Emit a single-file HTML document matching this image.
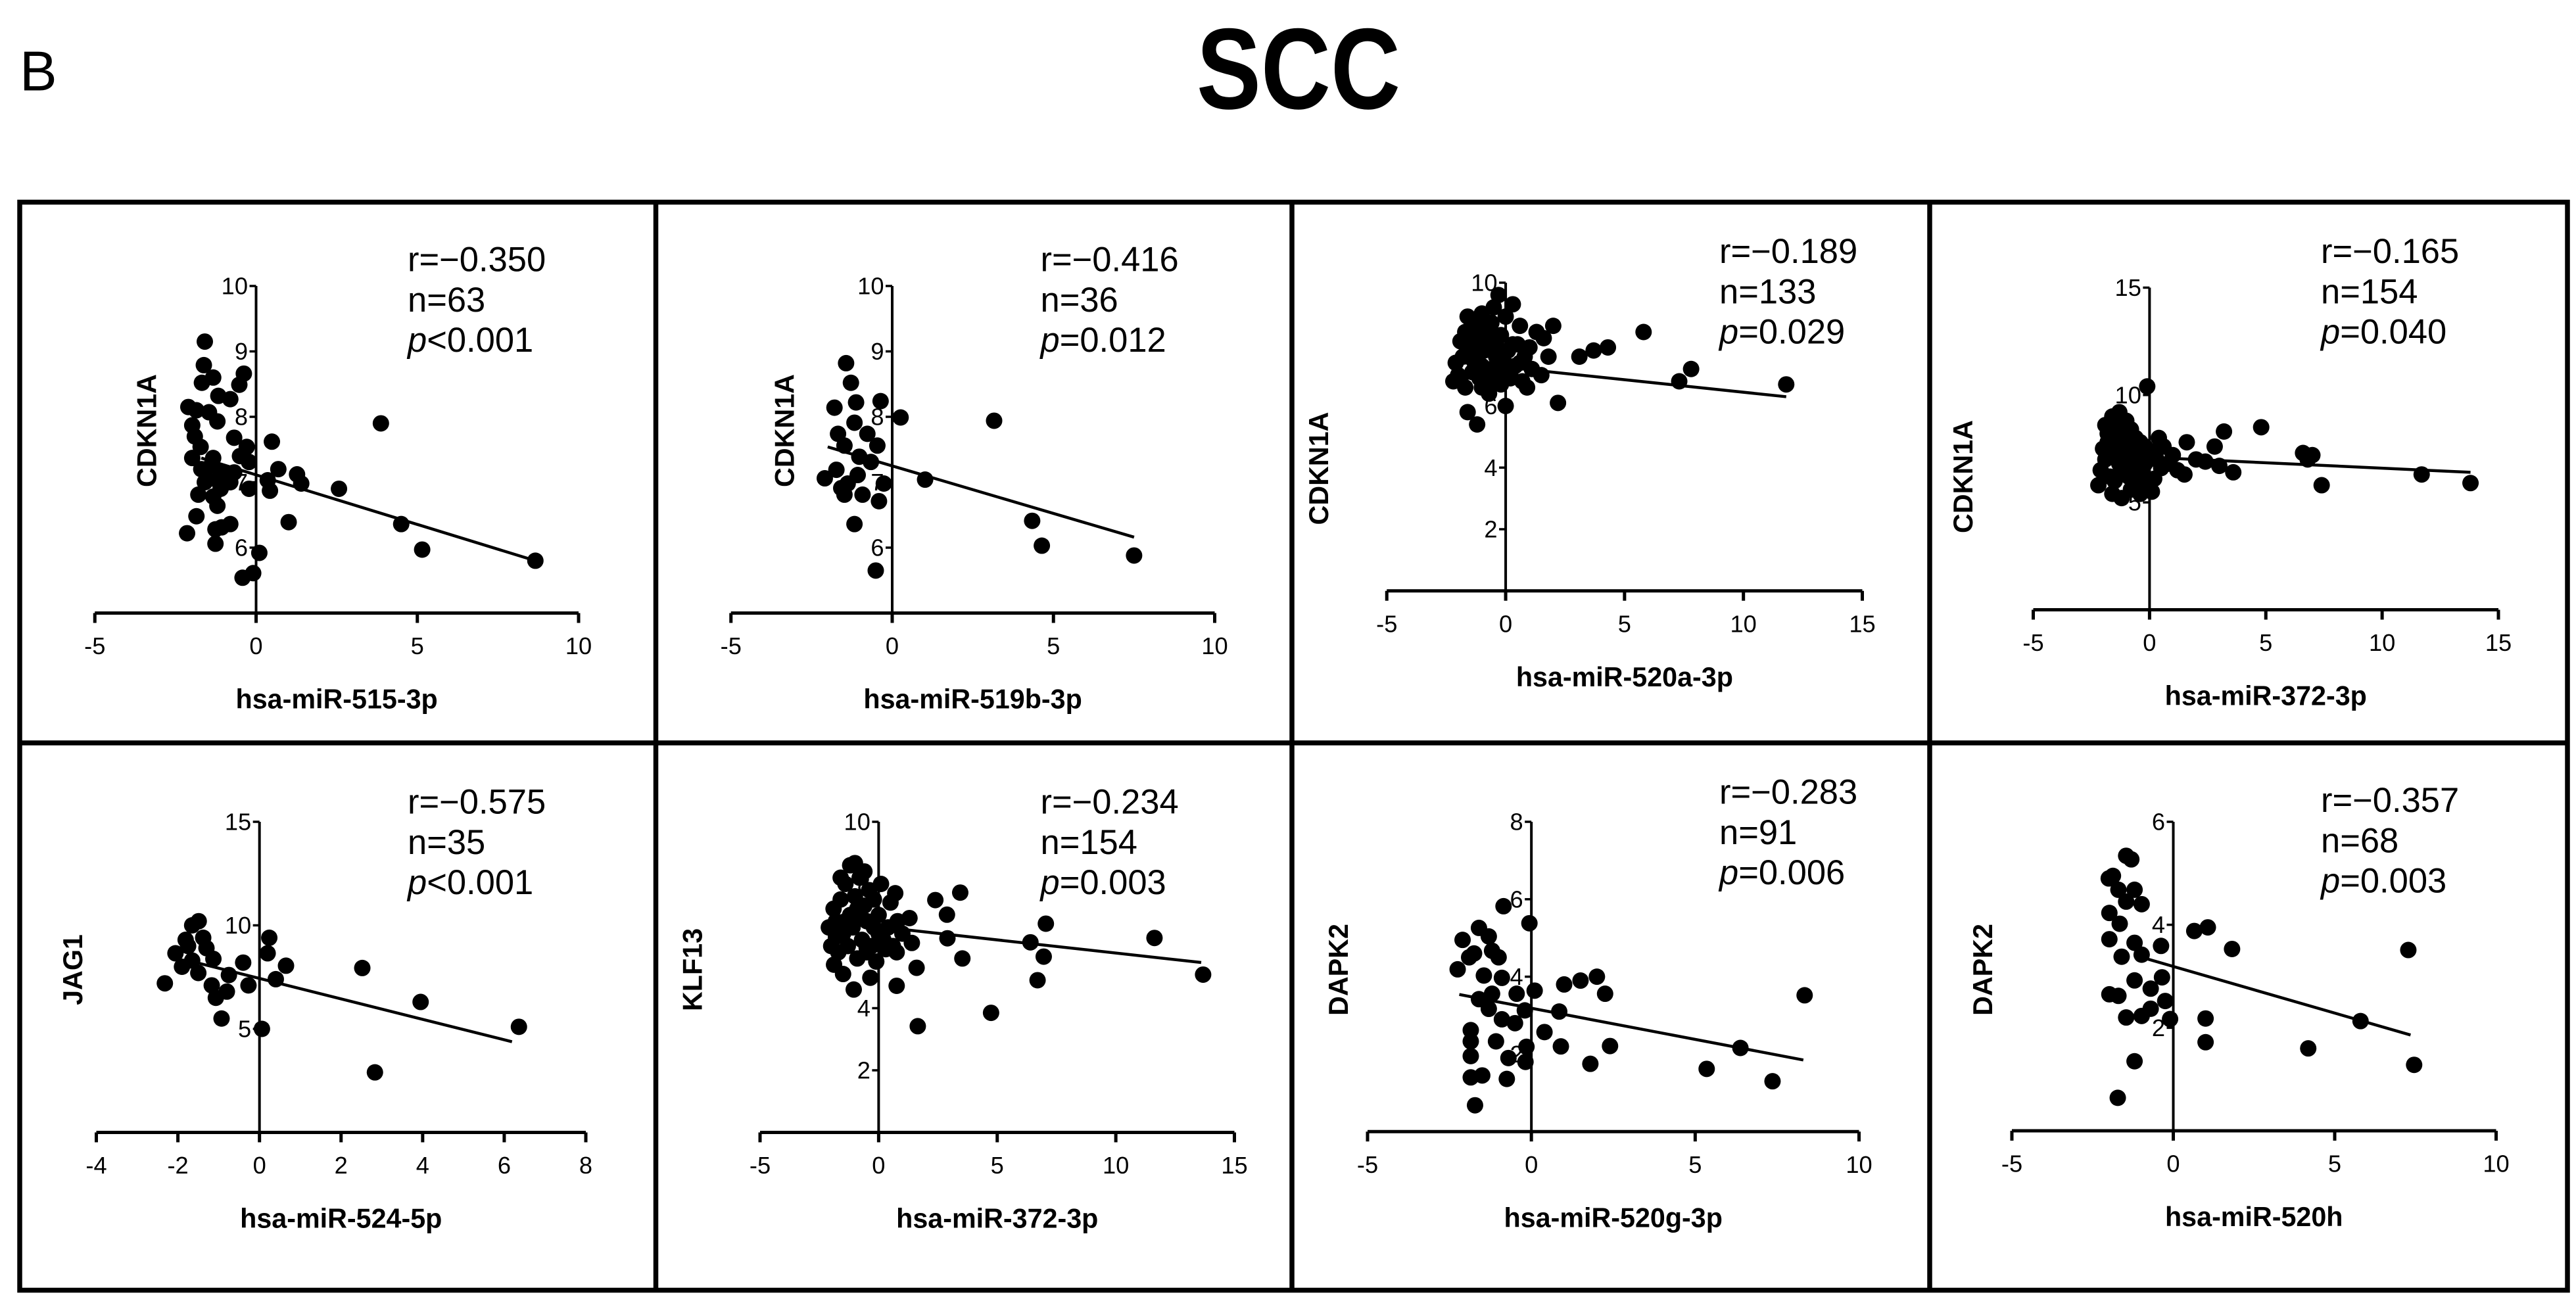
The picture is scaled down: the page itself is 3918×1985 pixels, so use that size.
<!DOCTYPE html>
<html><head><meta charset="utf-8">
<style>
html,body{margin:0;padding:0;background:#fff;}
svg{display:block;}
text{font-family:"Liberation Sans",Arial,sans-serif;fill:#000;}
.tick{font-family:"Liberation Sans Narrow","Liberation Sans",sans-serif;font-size:14.5px;}
.axl{font-weight:bold;font-size:16.5px;}
.st{font-size:21px;}
</style></head>
<body>
<svg id="fig" width="3918" height="1985" viewBox="0 0 1567.2 794" xmlns="http://www.w3.org/2000/svg">
<rect x="0" y="0" width="1567.2" height="794" fill="#fff"/>
<text x="12" y="55" font-size="34">B</text>
<text x="728" y="66" font-size="70" font-weight="bold" textLength="124" lengthAdjust="spacingAndGlyphs">SCC</text>
<g stroke="#000" stroke-width="3" fill="none">
<rect x="12" y="123" width="1550" height="662"/>
<line x1="399" y1="123" x2="399" y2="785"/>
<line x1="786" y1="123" x2="786" y2="785"/>
<line x1="1174" y1="123" x2="1174" y2="785"/>
<line x1="12" y1="452" x2="1562" y2="452"/>
</g>
<g id="plots"></g>
</svg>
<script>
// ---- data ----
const p1x=[-1.59,-1.62,-1.33,-1.68,-0.38,-0.52,-1.17,-0.8,-2.1,-1.85,-1.46,-1.2,3.87,-1.98,-1.9,-0.68,0.49,-0.29,-1.72,-1.98,-1.33,-0.22,0.69,-1.59,-1.07,-0.68,1.27,-1.2,-1.59,-0.8,0.36,1.4,2.57,-0.22,0.43,-1.79,-1.33,-1.2,-1.85,1.01,4.5,-0.8,-1.07,-1.26,-2.14,-1.26,5.15,0.1,-0.09,-0.42,8.66,-1.4,-1.0,-0.5,-1.7,-1.1];
const p1y=[9.15,8.79,8.6,8.52,8.66,8.49,8.32,8.27,8.15,8.1,8.07,7.93,7.9,7.87,7.7,7.68,7.62,7.54,7.54,7.37,7.37,7.31,7.2,7.17,7.15,7.15,7.12,7.03,7.0,7.0,7.03,6.98,6.9,6.9,6.87,6.81,6.78,6.64,6.48,6.39,6.36,6.36,6.31,6.28,6.22,6.06,5.97,5.92,5.61,5.54,5.8,7.25,7.05,7.4,7.2,6.9];
const p2x=[-1.43,-1.28,-1.12,-1.79,-0.36,-1.17,0.26,3.16,-1.68,-0.77,-1.48,-1.02,-0.46,-1.73,-1.07,-2.09,-1.38,1.02,-0.26,-0.92,-0.41,-1.48,-1.17,4.34,4.64,7.5,-0.51,-1.58,-0.66];
const p2y=[8.82,8.52,8.22,8.14,8.24,7.91,7.99,7.94,7.74,7.74,7.56,7.39,7.56,7.19,7.11,7.06,6.98,7.04,6.98,6.81,6.71,6.81,6.36,6.41,6.03,5.88,5.65,6.91,7.31];
const p3x=[-2.0,-1.8,-1.5,-1.2,-1.0,-0.8,-0.5,-0.3,0.0,0.3,0.5,0.8,1.0,1.3,1.6,2.0,-2.2,-1.9,-1.6,-1.3,-1.1,-0.9,-0.6,-0.4,-0.1,0.2,0.4,0.7,1.1,1.5,-2.1,-1.7,-1.4,-1.0,-0.7,-0.2,0.1,0.6,0.9,1.8,-1.5,-1.1,-0.6,-0.2,0.3,-1.2,-0.8,-0.3,-1.9,0.0,-1.4,-0.9,-0.4,0.2,-1.7,-1.0,-0.5,0.6,5.8,4.3,3.7,3.1,7.3,7.8,11.8,2.2,-1.6,-1.2,0.0];
const p3y=[7.0,7.6,8.3,8.8,9.0,8.4,9.2,9.6,8.9,9.3,8.0,7.6,7.9,8.4,8.2,8.6,6.8,8.1,8.9,7.4,6.9,7.8,7.2,8.0,7.5,6.9,7.3,6.8,7.2,7.0,7.4,6.6,7.1,6.6,6.4,6.7,7.8,8.6,6.6,7.6,7.8,8.2,8.7,8.3,8.0,7.5,7.0,7.1,6.9,7.3,8.6,8.0,7.6,7.1,8.4,7.3,6.8,7.4,8.4,7.9,7.8,7.6,6.8,7.2,6.7,6.1,5.8,5.4,6.0];
const p4x=[-2.0,-1.8,-1.6,-1.4,-1.2,-1.0,-0.8,-0.6,-0.4,-0.2,0.0,0.3,0.5,-2.1,-1.9,-1.7,-1.5,-1.3,-1.1,-0.9,-0.7,-0.5,-0.3,-0.1,0.2,0.6,1.0,-2.2,-1.6,-1.2,-0.8,-0.4,0.1,-1.8,-1.4,-1.0,-0.6,-0.2,0.4,-1.9,-1.3,-0.7,-1.5,-0.9,0.8,-0.1,4.8,3.2,2.8,1.6,6.6,7.0,6.8,7.4,11.7,13.8,3.6,1.5,2.4,3.0,1.2,2.0];
const p4y=[7.5,8.2,9.0,8.6,8.0,7.6,8.4,7.2,7.8,6.8,7.4,7.0,6.6,6.5,7.0,6.2,7.3,6.8,6.4,7.0,6.0,6.6,6.2,5.8,6.1,7.6,7.2,5.8,5.4,5.2,5.6,5.4,5.5,7.8,7.6,8.8,8.0,7.6,8.0,8.6,9.2,7.4,6.0,6.2,6.8,10.4,8.5,8.3,7.6,7.8,7.3,7.2,7.0,5.8,6.3,5.9,6.4,6.3,6.9,6.7,6.5,7.0];
const p5x=[-1.49,-1.65,0.24,-1.38,-1.81,-2.06,0.2,-1.13,-1.65,-0.4,-1.9,0.65,2.52,-1.5,-0.75,-2.32,-1.17,-0.27,0.4,-0.8,-1.07,3.95,-0.93,0.06,6.36,2.83,-1.3,-1.75];
const p5y=[10.2,10.0,9.4,9.4,9.3,8.65,8.65,8.38,8.3,8.2,8.0,8.05,7.94,7.7,7.6,7.2,7.1,7.1,7.4,6.8,6.5,6.3,5.5,5.0,5.1,2.9,8.9,9.0];
const p6x=[-2.0,-1.8,-1.6,-1.4,-1.2,-1.0,-0.8,-0.6,-0.4,-0.2,0.0,0.2,0.5,0.8,1.0,-1.9,-1.7,-1.5,-1.3,-1.1,-0.9,-0.7,-0.5,-0.3,-0.1,0.3,0.6,-1.6,-1.2,-0.9,-0.6,-0.2,0.1,0.4,-1.4,-1.0,-0.5,-1.8,-2.1,0.0,1.3,0.7,3.44,2.39,2.88,7.05,11.63,13.68,6.4,6.96,6.7,4.74,1.65,3.53,2.9,1.4,1.6,0.76,0.76,-0.35,-1.05,-1.5,-1.88,-1.0];
const p6y=[6.0,6.8,7.5,8.0,7.0,7.6,8.2,7.3,7.8,6.6,7.0,6.2,7.4,6.8,6.4,7.2,5.8,6.4,6.0,6.6,5.6,6.2,5.8,6.0,5.5,5.9,6.0,8.2,8.6,7.2,8.4,7.5,8.0,6.6,6.8,7.0,6.8,6.3,6.6,6.4,6.9,7.7,7.72,7.48,7.01,6.72,6.26,5.08,6.12,5.66,4.9,3.85,3.42,5.6,6.25,6.1,5.3,4.72,5.8,4.98,4.6,5.1,5.4,8.67];
const p7x=[8.34,6.38,5.35,7.36,-0.06,-0.85,-1.6,-1.3,-2.1,-1.2,-1.9,-2.25,2.0,1.5,1.0,2.25,0.1,-0.45,-1.2,-1.6,-1.45,-0.9,0.85,-0.2,-0.9,-1.85,0.4,-1.08,0.9,2.4,-0.15,-0.7,-1.85,-0.18,1.8,-1.85,-1.5,-0.75,-1.72,-1.85,-0.5,-1.3,-1.0,-1.75];
const p7y=[3.52,2.16,1.62,1.3,5.38,5.82,5.26,5.04,4.95,4.67,4.5,4.19,4.0,3.9,3.8,3.56,3.64,3.56,3.56,3.42,4.03,3.97,3.1,3.13,2.9,2.62,2.57,2.33,2.2,2.21,2.19,1.9,1.95,1.8,1.75,1.4,1.45,1.36,0.68,2.33,2.8,3.17,4.5,4.6];
const p8x=[-1.3,-1.46,-1.87,-2.0,-1.2,-0.98,-1.98,-1.66,-0.38,-1.98,-1.2,-1.6,-0.98,0.65,1.07,1.82,7.28,-0.35,-1.2,-1.98,-1.7,-0.7,-0.25,-0.7,-1.46,-0.98,-0.1,1.0,5.8,1.0,4.18,7.46,-1.2,-1.72,-1.46,-1.7];
const p8y=[5.27,5.34,4.95,4.9,4.68,4.4,4.23,4.02,3.59,3.72,3.65,3.38,3.42,3.88,3.95,3.53,3.51,2.98,2.92,2.65,2.62,2.76,2.52,2.37,2.2,2.23,2.17,2.18,2.13,1.72,1.6,1.28,1.35,0.64,4.45,4.68];
// regression line endpoints [x0,y0,x1,y1]
const fit1=[-1.7,7.37,8.66,5.8];
const fit2=[-2.0,7.54,7.5,6.16];
const fit3=[-2.0,7.42,11.8,6.3];
const fit4=[-2.0,7.2,13.8,6.4];
const fit5=[-1.65,8.25,6.19,4.38];
const fit6=[-2.0,6.79,13.6,5.47];
const fit7=[-2.2,3.54,8.3,1.85];
const fit8=[-1.1,3.39,7.35,1.86];
// stats labels
const statR=["r=\u22120.350","r=\u22120.416","r=\u22120.189","r=\u22120.165","r=\u22120.575","r=\u22120.234","r=\u22120.283","r=\u22120.357"];
const statN=["n=63","n=36","n=133","n=154","n=35","n=154","n=91","n=68"];
const statP=["<0.001","=0.012","=0.029","=0.040","<0.001","=0.003","=0.006","=0.003"];
const xNames=["hsa-miR-515-3p","hsa-miR-519b-3p","hsa-miR-520a-3p","hsa-miR-372-3p","hsa-miR-524-5p","hsa-miR-372-3p","hsa-miR-520g-3p","hsa-miR-520h"];
const yNames=["CDKN1A","CDKN1A","CDKN1A","CDKN1A","JAG1","KLF13","DAPK2","DAPK2"];
const xTicks1=[-5,0,5,10];
const xTicks2=[-5,0,5,10,15];
const xTicks3=[-4,-2,0,2,4,6,8];
const yTicksA=[6,7,8,9,10];
const yTicksB=[2,4,6,8,10];
const yTicksC=[5,10,15];
const yTicksD=[2,4,6,8];
const yTicksE=[2,4,6];

// ---- layout (pixel geometry, not data) ----
const layout=[
 {xs:p1x,ys:p1y,fit:fit1,xmin:-5,xmax:10,ax0:57.7,ax1:352,ymin:5,ymax:10,ay0:373,ay1:174,xt:xTicks1,yt:yTicksA,sx:248,sy:165,ylx:95,yly:262},
 {xs:p2x,ys:p2y,fit:fit2,xmin:-5,xmax:10,ax0:444.7,ax1:739,ymin:5,ymax:10,ay0:373,ay1:174,xt:xTicks1,yt:yTicksA,sx:633,sy:165,ylx:483,yly:262},
 {xs:p3x,ys:p3y,fit:fit3,xmin:-5,xmax:15,ax0:843.7,ax1:1133,ymin:0,ymax:10,ay0:359.5,ay1:172,xt:xTicks2,yt:yTicksB,sx:1046,sy:160,ylx:808,yly:285},
 {xs:p4x,ys:p4y,fit:fit4,xmin:-5,xmax:15,ax0:1237,ax1:1520,ymin:0,ymax:15,ay0:371,ay1:175,xt:xTicks2,yt:yTicksC,sx:1412,sy:160,ylx:1200,yly:290},
 {xs:p5x,ys:p5y,fit:fit5,xmin:-4,xmax:8,ax0:58.6,ax1:356.4,ymin:0,ymax:15,ay0:689,ay1:500,xt:xTicks3,yt:yTicksC,sx:248,sy:495,ylx:50,yly:590},
 {xs:p6x,ys:p6y,fit:fit6,xmin:-5,xmax:15,ax0:462.4,ax1:751,ymin:0,ymax:10,ay0:689,ay1:500,xt:xTicks2,yt:yTicksB,sx:633,sy:495,ylx:427,yly:590},
 {xs:p7x,ys:p7y,fit:fit7,xmin:-5,xmax:10,ax0:832,ax1:1131,ymin:0,ymax:8,ay0:688.5,ay1:500,xt:xTicks1,yt:yTicksD,sx:1046,sy:489,ylx:820,yly:590},
 {xs:p8x,ys:p8y,fit:fit8,xmin:-5,xmax:10,ax0:1224,ax1:1518.6,ymin:0,ymax:6,ay0:688,ay1:500,xt:xTicks1,yt:yTicksE,sx:1412,sy:494,ylx:1212,yly:590}
];
const NS="http://www.w3.org/2000/svg";
const root=document.getElementById('plots');
function mk(tag,attrs,parent){const e=document.createElementNS(NS,tag);for(const k in attrs)e.setAttribute(k,attrs[k]);parent.appendChild(e);return e;}
layout.forEach((L,i)=>{
 const X=v=>L.ax0+(v-L.xmin)/(L.xmax-L.xmin)*(L.ax1-L.ax0);
 const Y=v=>L.ay0+(v-L.ymin)/(L.ymax-L.ymin)*(L.ay1-L.ay0);
 const g=mk('g',{},root);
 
 
 const x0=X(0);
 const xa=mk('line',{x1:L.ax0,y1:L.ay0,x2:L.ax1,y2:L.ay0,stroke:'#000','stroke-width':2},g);
 
 
 L.xt.forEach(t=>{
  const tx=X(t);
  mk('line',{x1:tx,y1:L.ay0,x2:tx,y2:L.ay0+6,stroke:'#000','stroke-width':2},g);
  const tl=mk('text',{x:tx,y:L.ay0+25,'text-anchor':'middle','class':'tick'},g);
  tl.textContent=String(t);
  
  
 });
 const ya=mk('line',{x1:x0,y1:L.ay0,x2:x0,y2:L.ay1,stroke:'#000','stroke-width':1.6},g);
 
 
 L.yt.forEach(t=>{
  const ty=Y(t);
  mk('line',{x1:x0-4,y1:ty,x2:x0,y2:ty,stroke:'#000','stroke-width':1.4},g);
  const tl=mk('text',{x:x0-5,y:ty+5,'text-anchor':'end','class':'tick'},g);
  tl.textContent=String(t);
  
  
 });
 L.xs.forEach((v,j)=>{
  const c=mk('circle',{cx:X(v),cy:Y(L.ys[j]),r:5,fill:'#000'},g);
  
  
 });
 const f=L.fit;
 const fl=mk('line',{x1:X(f[0]),y1:Y(f[1]),x2:X(f[2]),y2:Y(f[3]),stroke:'#000','stroke-width':1.8},g);
 
 
 const xl=mk('text',{x:(L.ax0+L.ax1)/2,y:L.ay0+58,'text-anchor':'middle','class':'axl'},g);
 xl.textContent=xNames[i];
 
 
 const yl=mk('text',{x:L.ylx,y:L.yly,'text-anchor':'middle','class':'axl',transform:'rotate(-90 '+L.ylx+' '+L.yly+')'},g);
 yl.textContent=yNames[i];
 
 
 const r=mk('text',{x:L.sx,y:L.sy,'class':'st'},g);
 r.textContent=statR[i];
 
 
 const n=mk('text',{x:L.sx,y:L.sy+24.5,'class':'st'},g);
 n.textContent=statN[i];
 
 
 const p=mk('text',{x:L.sx,y:L.sy+49,'class':'st'},g);
 
 
 const pi=mk('tspan',{'font-style':'italic'},p);pi.textContent='p';
 const pr=mk('tspan',{},p);pr.textContent=statP[i];
});
</script>
</body></html>
